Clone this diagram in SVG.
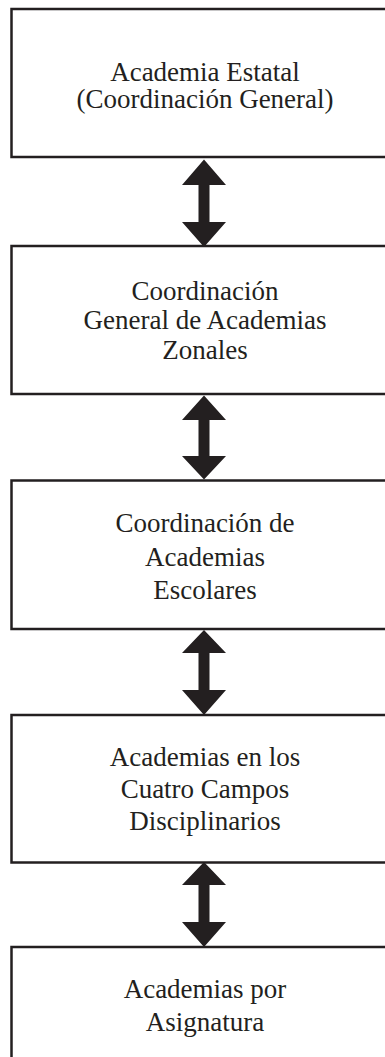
<svg xmlns="http://www.w3.org/2000/svg" width="385" height="1057" viewBox="0 0 385 1057">
<style>
.box{fill:#fff;stroke:#231f20;stroke-width:2.5}
.lbl{font-family:"Liberation Serif","Times New Roman",serif;font-size:27px;fill:#231f20;text-anchor:middle}
.arr{fill:#231f20}
</style>
<rect x="0" y="0" width="385" height="1057" fill="#fff"/>
<g id="n1"><rect class="box" x="11.5" y="9" width="390" height="148"/>
<text class="lbl" x="205" y="81">Academia Estatal</text>
<text class="lbl" x="205" y="108">(Coordinación General)</text></g>
<g id="n2"><rect class="box" x="11.5" y="246" width="390" height="148"/>
<text class="lbl" x="205" y="300">Coordinación</text>
<text class="lbl" x="205" y="329">General de Academias</text>
<text class="lbl" x="205" y="359">Zonales</text></g>
<g id="n3"><rect class="box" x="11.5" y="480.5" width="390" height="148.5"/>
<text class="lbl" x="205" y="532">Coordinación de</text>
<text class="lbl" x="205" y="566">Academias</text>
<text class="lbl" x="205" y="599">Escolares</text></g>
<g id="n4"><rect class="box" x="11.5" y="715" width="390" height="147.5"/>
<text class="lbl" x="205" y="766">Academias en los</text>
<text class="lbl" x="205" y="798">Cuatro Campos</text>
<text class="lbl" x="205" y="830">Disciplinarios</text></g>
<g id="n5"><rect class="box" x="11.5" y="947" width="390" height="130"/>
<text class="lbl" x="205" y="998">Academias por</text>
<text class="lbl" x="205" y="1031">Asignatura</text></g>
<g id="connectors">
<path class="arr" d="M204,159.5 L226,185 L209.5,185 L209.5,222 L226,222 L204,247 L182,222 L198.5,222 L198.5,185 L182,185 Z"/>
<path class="arr" d="M204,395.5 L226,420 L209.5,420 L209.5,456 L226,456 L204,479.5 L182,456 L198.5,456 L198.5,420 L182,420 Z"/>
<path class="arr" d="M204,630 L226,653 L209.5,653 L209.5,690 L226,690 L204,715 L182,690 L198.5,690 L198.5,653 L182,653 Z"/>
<path class="arr" d="M204,862 L226,885 L209.5,885 L209.5,922 L226,922 L204,947 L182,922 L198.5,922 L198.5,885 L182,885 Z"/>
</g>
</svg>
